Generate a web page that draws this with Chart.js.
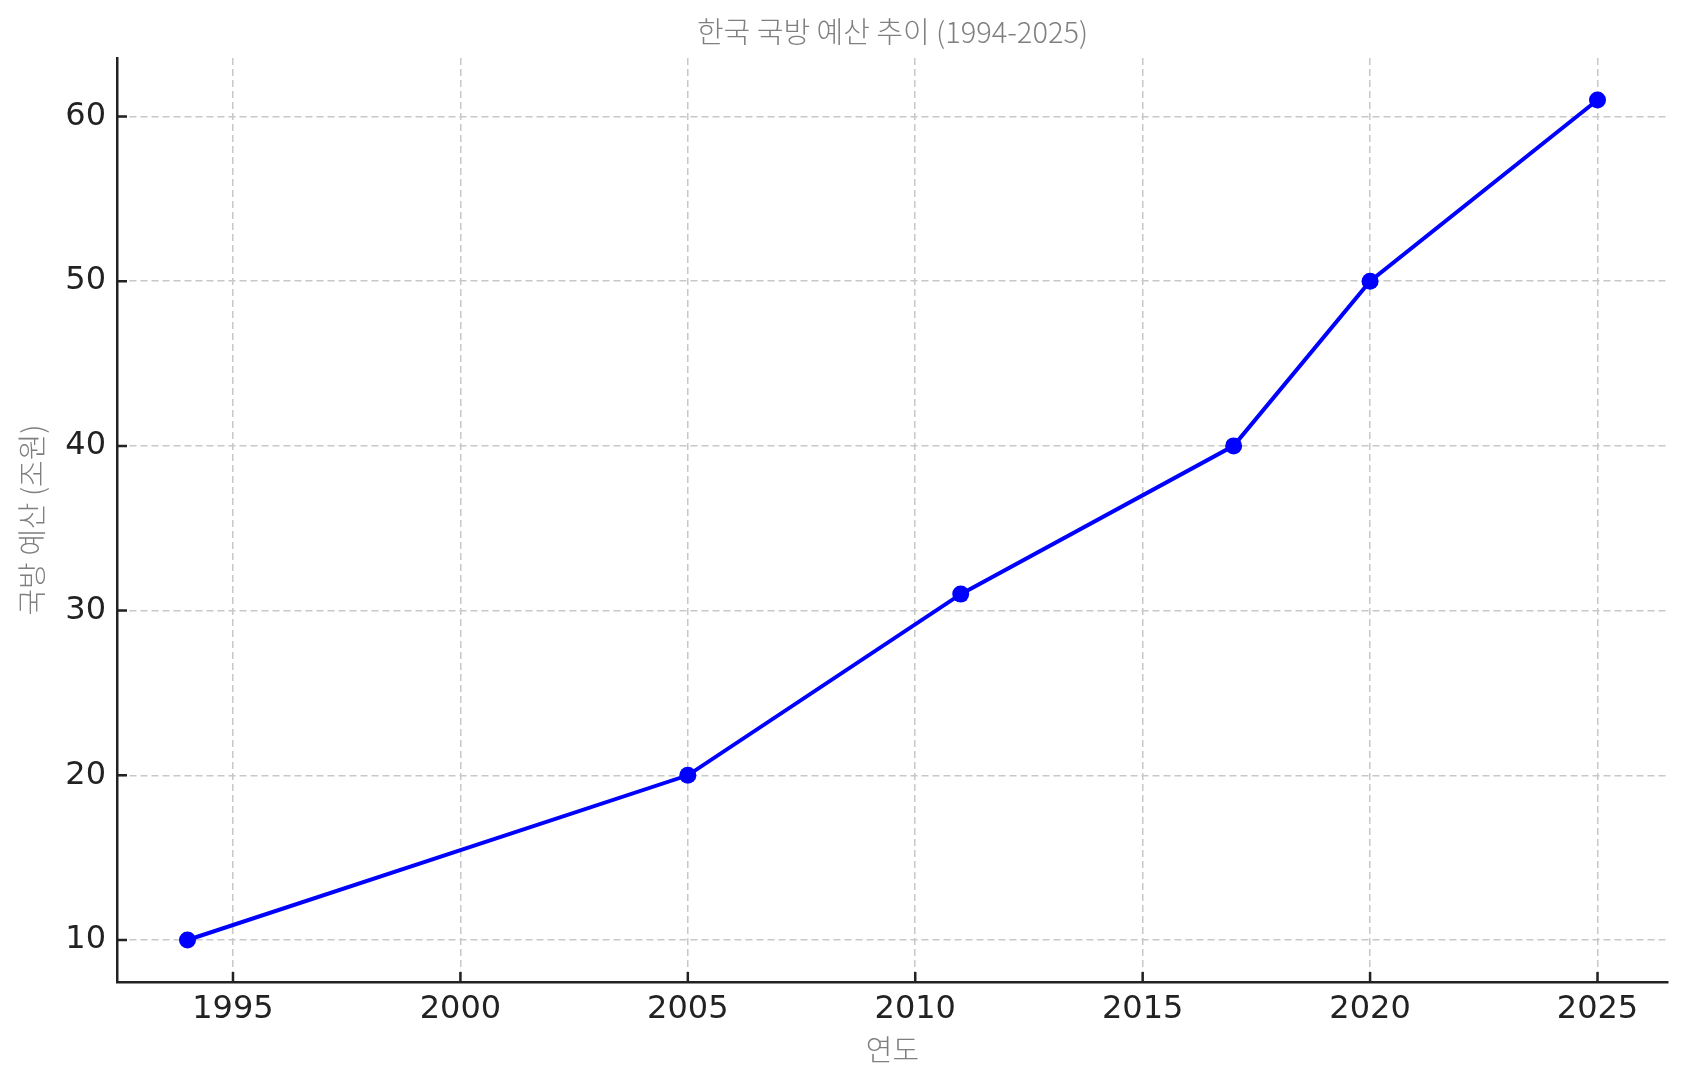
<!DOCTYPE html>
<html>
<head>
<meta charset="utf-8">
<script src="https://cdn.jsdelivr.net/npm/chart.js@4.4.1/dist/chart.umd.min.js"></script>
<style>
html,body{margin:0;padding:0;background:#fff;}
#c{display:block;}
</style>
</head>
<body>
<canvas id="c" width="1687" height="1090"></canvas>
<script>
const years = [1994, 2005, 2011, 2017, 2020, 2025];
const budget = [10, 20, 31, 40, 50, 61];
const xTicks = [1995, 2000, 2005, 2010, 2015, 2020, 2025];
const yTicks = [10, 20, 30, 40, 50, 60];
const titleText = '한국 국방 예산 추이 (1994-2025)';
const xLabel = '연도';
const yLabel = '국방 예산 (조원)';

const xMin = 1992.45, xMax = 2026.55;
const yMin = 7.45, yMax = 63.55;

const inwardTicks = {
  id: 'inwardTicks',
  afterDatasetsDraw(chart) {
    const {ctx, chartArea, scales} = chart;
    ctx.save();
    ctx.strokeStyle = '#222';
    ctx.lineWidth = 2.5;
    ctx.beginPath();
    scales.x.ticks.forEach(t => {
      const px = scales.x.getPixelForValue(t.value);
      ctx.moveTo(px, chartArea.bottom);
      ctx.lineTo(px, chartArea.bottom - 10);
    });
    scales.y.ticks.forEach(t => {
      const py = scales.y.getPixelForValue(t.value);
      ctx.moveTo(chartArea.left, py);
      ctx.lineTo(chartArea.left + 10, py);
    });
    ctx.stroke();
    ctx.restore();
  }
};

const lightFont = {family: '"Noto Sans CJK KR", "Noto Sans", sans-serif', size: 29, weight: 300, lineHeight: 1.2};

new Chart(document.getElementById('c'), {
  type: 'line',
  data: {
    datasets: [{
      data: years.map((y, i) => ({x: y, y: budget[i]})),
      borderColor: '#0000ff',
      backgroundColor: '#0000ff',
      borderWidth: 4,
      pointRadius: 8.5,
      pointBorderWidth: 0,
      pointBackgroundColor: '#0000ff',
      tension: 0
    }]
  },
  options: {
    responsive: false,
    devicePixelRatio: 1,
    animation: false,
    layout: {padding: {left: 0, right: 19, top: 0, bottom: 0}},
    plugins: {
      legend: {display: false},
      tooltip: {enabled: false},
      title: {
        display: true,
        fullSize: false,
        text: titleText,
        color: '#7f7f7f',
        font: lightFont,
        padding: {top: 14.6, bottom: 8.6}
      }
    },
    scales: {
      x: {
        type: 'linear',
        min: xMin, max: xMax,
        afterBuildTicks(s) { s.ticks = xTicks.map(v => ({value: v})); },
        afterFit(s) { s.height = 108; },
        ticks: {
          font: {family: '"DejaVu Sans", sans-serif', size: 32},
          color: '#222',
          padding: 8,
          maxRotation: 0,
          autoSkip: false,
          callback: v => String(v)
        },
        grid: {color: '#c8c8c8', lineWidth: 1.5, drawTicks: false},
        border: {display: true, color: '#222', width: 2.5, dash: [7, 4]},
        title: {display: true, text: xLabel, color: '#7f7f7f', font: lightFont, padding: {top: 0, bottom: 23}}
      },
      y: {
        type: 'linear',
        min: yMin, max: yMax,
        afterBuildTicks(s) { s.ticks = yTicks.map(v => ({value: v})); },
        afterFit(s) { s.width = 117; },
        ticks: {
          font: {family: '"DejaVu Sans", sans-serif', size: 32},
          color: '#222',
          padding: 11,
          autoSkip: false
        },
        grid: {color: '#c8c8c8', lineWidth: 1.5, drawTicks: false},
        border: {display: true, color: '#222', width: 2.5, dash: [7, 4]},
        title: {display: true, text: yLabel, color: '#7f7f7f', font: lightFont, padding: {top: 15, bottom: 0}}
      }
    }
  },
  plugins: [inwardTicks]
});
</script>
</body>
</html>
